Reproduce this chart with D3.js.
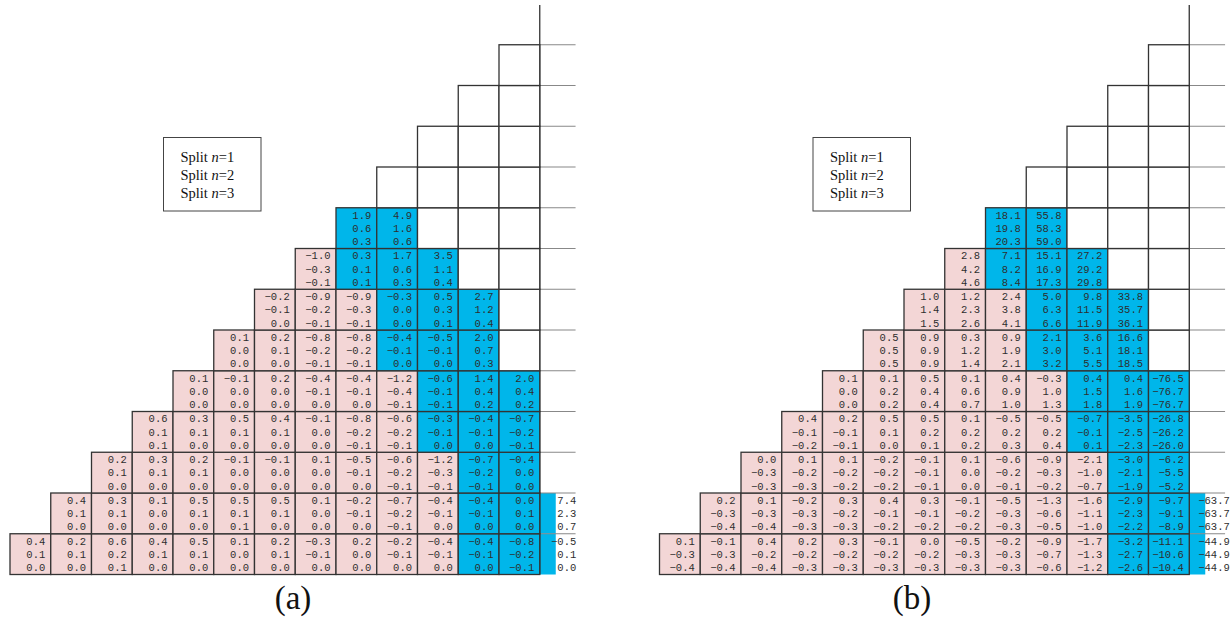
<!DOCTYPE html>
<html>
<head>
<meta charset="utf-8">
<script src="https://cdn.jsdelivr.net/npm/d3@7"></script>
<style>
body { margin: 0; background: #fff; }
.cell { stroke: #333; stroke-width: 1.3; }
.num { font-family: "Liberation Mono", "DejaVu Sans Mono", monospace; font-size: 10.5px; fill: #2e2e2e; text-anchor: end; }
.legend-box { fill: #fff; stroke: #444; stroke-width: 1; }
.legend-text { font-family: "Liberation Serif", "Times New Roman", serif; font-size: 14.5px; fill: #111; }
.panel-label { font-family: "Liberation Serif", "Times New Roman", serif; font-size: 33px; fill: #111; text-anchor: middle; }
</style>
</head>
<body>
<div id="chart"></div>
<script>
// values per row, bottom row first; row r starts at column r
const aSplit1 = [
    [0.4, 0.2, 0.6, 0.4, 0.5, 0.1, 0.2, -0.3, 0.2, -0.2, -0.4, -0.4, -0.8, -0.5],
    [0.4, 0.3, 0.1, 0.5, 0.5, 0.5, 0.1, -0.2, -0.7, -0.4, -0.4, 0.0, 7.4],
    [0.2, 0.3, 0.2, -0.1, -0.1, 0.1, -0.5, -0.6, -1.2, -0.7, -0.4],
    [0.6, 0.3, 0.5, 0.4, -0.1, -0.8, -0.6, -0.3, -0.4, -0.7],
    [0.1, -0.1, 0.2, -0.4, -0.4, -1.2, -0.6, 1.4, 2.0],
    [0.1, 0.2, -0.8, -0.8, -0.4, -0.5, 2.0],
    [-0.2, -0.9, -0.9, -0.3, 0.5, 2.7],
    [-1.0, 0.3, 1.7, 3.5],
    [1.9, 4.9]
];
const aSplit2 = [
    [0.1, 0.1, 0.2, 0.1, 0.1, 0.0, 0.1, -0.1, 0.0, -0.1, -0.1, -0.1, -0.2, 0.1],
    [0.1, 0.1, 0.0, 0.1, 0.1, 0.1, 0.0, -0.1, -0.2, -0.1, -0.1, 0.1, 2.3],
    [0.1, 0.1, 0.1, 0.0, 0.0, 0.0, -0.1, -0.2, -0.3, -0.2, 0.0],
    [0.1, 0.1, 0.1, 0.1, 0.0, -0.2, -0.2, -0.1, -0.1, -0.2],
    [0.0, 0.0, 0.0, -0.1, -0.1, -0.4, -0.1, 0.4, 0.4],
    [0.0, 0.1, -0.2, -0.2, -0.1, -0.1, 0.7],
    [-0.1, -0.2, -0.3, 0.0, 0.3, 1.2],
    [-0.3, 0.1, 0.6, 1.1],
    [0.6, 1.6]
];
const aSplit3 = [
    [0.0, 0.0, 0.1, 0.0, 0.0, 0.0, 0.0, 0.0, 0.0, 0.0, 0.0, 0.0, -0.1, 0.0],
    [0.0, 0.0, 0.0, 0.0, 0.1, 0.0, 0.0, 0.0, -0.1, 0.0, 0.0, 0.0, 0.7],
    [0.0, 0.0, 0.0, 0.0, 0.0, 0.0, 0.0, -0.1, -0.1, -0.1, 0.0],
    [0.1, 0.0, 0.0, 0.0, 0.0, -0.1, -0.1, 0.0, 0.0, -0.1],
    [0.0, 0.0, 0.0, 0.0, 0.0, -0.1, -0.1, 0.2, 0.2],
    [0.0, 0.0, -0.1, -0.1, 0.0, 0.0, 0.3],
    [0.0, -0.1, -0.1, 0.0, 0.1, 0.4],
    [-0.1, 0.1, 0.3, 0.4],
    [0.3, 0.6]
];
const bSplit1 = [
    [0.1, -0.1, 0.4, 0.2, 0.3, -0.1, 0.0, -0.5, -0.2, -0.9, -1.7, -3.2, -11.1, -44.9],
    [0.2, 0.1, -0.2, 0.3, 0.4, 0.3, -0.1, -0.5, -1.3, -1.6, -2.9, -9.7, -63.7],
    [0.0, 0.1, 0.1, -0.2, -0.1, 0.1, -0.6, -0.9, -2.1, -3.0, -6.2],
    [0.4, 0.2, 0.5, 0.5, 0.1, -0.5, -0.5, -0.7, -3.5, -26.8],
    [0.1, 0.1, 0.5, 0.1, 0.4, -0.3, 0.4, 0.4, -76.5],
    [0.5, 0.9, 0.3, 0.9, 2.1, 3.6, 16.6],
    [1.0, 1.2, 2.4, 5.0, 9.8, 33.8],
    [2.8, 7.1, 15.1, 27.2],
    [18.1, 55.8]
];
const bSplit2 = [
    [-0.3, -0.3, -0.2, -0.2, -0.2, -0.2, -0.2, -0.3, -0.3, -0.7, -1.3, -2.7, -10.6, -44.9],
    [-0.3, -0.3, -0.3, -0.2, -0.1, -0.1, -0.2, -0.3, -0.6, -1.1, -2.3, -9.1, -63.7],
    [-0.3, -0.2, -0.2, -0.2, -0.1, 0.0, -0.2, -0.3, -1.0, -2.1, -5.5],
    [-0.1, -0.1, 0.1, 0.2, 0.2, 0.2, 0.2, -0.1, -2.5, -26.2],
    [0.0, 0.2, 0.4, 0.6, 0.9, 1.0, 1.5, 1.6, -76.7],
    [0.5, 0.9, 1.2, 1.9, 3.0, 5.1, 18.1],
    [1.4, 2.3, 3.8, 6.3, 11.5, 35.7],
    [4.2, 8.2, 16.9, 29.2],
    [19.8, 58.3]
];
const bSplit3 = [
    [-0.4, -0.4, -0.4, -0.3, -0.3, -0.3, -0.3, -0.3, -0.3, -0.6, -1.2, -2.6, -10.4, -44.9],
    [-0.4, -0.4, -0.3, -0.3, -0.2, -0.2, -0.2, -0.3, -0.5, -1.0, -2.2, -8.9, -63.7],
    [-0.3, -0.3, -0.2, -0.2, -0.1, 0.0, -0.1, -0.2, -0.7, -1.9, -5.2],
    [-0.2, -0.1, 0.0, 0.1, 0.2, 0.3, 0.4, 0.1, -2.3, -26.0],
    [0.0, 0.2, 0.4, 0.7, 1.0, 1.3, 1.8, 1.9, -76.7],
    [0.5, 0.9, 1.4, 2.1, 3.2, 5.5, 18.5],
    [1.5, 2.6, 4.1, 6.6, 11.9, 36.1],
    [4.6, 8.4, 17.3, 29.8],
    [20.3, 59.0]
];
// first blue column of each row (blue runs to the end of the row)
const blueStart = [11, 11, 11, 10, 10, 9, 9, 8, 8];
const legendLabels = ["1", "2", "3"];
const panelLabels = ["(a)", "(b)"];

const svg = d3.select("#chart").append("svg")
    .attr("width", 1231)
    .attr("height", 617);

/**
 * Constructor for one triangular table
 */
function TriangleTable(id, left, labelX, edgeText, splits, label){
    let self = this;
    self.id = id;
    self.left = left;
    self.labelX = labelX;
    self.edgeText = edgeText;
    self.splits = splits;
    self.label = label;

    self.init();
};

TriangleTable.prototype.init = function(){
    let self = this;
    self.colW = 40.75;
    self.bottom = 574.5;
    self.nCols = 13;

    let fmt = d3.format(".1f");
    let x = d3.scaleLinear().domain([0, self.nCols]).range([self.left, self.left + self.nCols*self.colW]);
    let y = d3.scaleLinear().domain([0, 14]).range([self.bottom, self.bottom - 14*self.colW]);
    let rows = self.splits[0];

    svg.append("clipPath")
        .attr("id", "clip-" + self.id)
        .append("rect")
        .attr("x", self.left - 2)
        .attr("y", 5)
        .attr("width", self.nCols*self.colW + 38)
        .attr("height", self.bottom - 3);

    let g = svg.append("g").attr("clip-path", "url(#clip-" + self.id + ")");

    //Builds cells of the staircase
    let cells = [];
    for (let r = 0; r < 14; r++) {
        for (let c = r; c < self.nCols; c++) {
            let n = r < rows.length ? rows[r].length : 0;
            let filled = c - r < n;
            cells.push({
                r: r, c: c,
                kind: !filled ? "empty" : (c >= blueStart[r] ? "blue" : "pink"),
                vals: filled ? self.splits.map(function(s){ return s[r][c - r]; }) : []
            });
        }
    }

    //Blue part of the clipped last column
    let edge = rows.map(function(row, r){ return {r: r, len: row.length}; })
        .filter(function(d){ return d.r + d.len - 1 === self.nCols; });
    g.selectAll(".edge-fill")
        .data(edge)
        .enter()
        .append("rect")
        .attr("class", "edge-fill")
        .attr("x", x(self.nCols))
        .attr("y", function(d){ return y(d.r + 1); })
        .attr("width", 16)
        .attr("height", function(d){ return y(d.r) - y(d.r + 1); })
        .attr("fill", "#00b6ea");

    //Grey lines over the clipped last column
    g.selectAll(".edge-line")
        .data(d3.range(1, 14))
        .enter()
        .append("line")
        .attr("class", "edge-line")
        .attr("x1", x(self.nCols))
        .attr("x2", x(self.nCols) + 36)
        .attr("y1", function(d){ return y(d); })
        .attr("y2", function(d){ return y(d); })
        .attr("stroke", "#888")
        .attr("stroke-width", 1.1);

    g.append("line")
        .attr("x1", x(self.nCols))
        .attr("x2", x(self.nCols))
        .attr("y1", y(14))
        .attr("y2", y(0))
        .attr("stroke", "#333")
        .attr("stroke-width", 1.3);

    g.selectAll(".cell")
        .data(cells)
        .enter()
        .append("rect")
        .attr("class", "cell")
        .attr("x", function(d){ return x(d.c); })
        .attr("y", function(d){ return y(d.r + 1); })
        .attr("width", function(d){ return x(d.c + 1) - x(d.c); })
        .attr("height", function(d){ return y(d.r) - y(d.r + 1); })
        .attr("fill", function(d){
            return d.kind === "blue" ? "#00b6ea" : (d.kind === "pink" ? "#f3d6d6" : "#fff");
        });

    //Three numbers per cell
    let texts = [];
    cells.forEach(function(d){
        d.vals.forEach(function(v, i){ texts.push({r: d.r, c: d.c, i: i, v: v}); });
    });
    edge.forEach(function(d){
        self.splits.forEach(function(s, i){ texts.push({r: d.r, c: self.nCols, i: i, v: s[d.r][d.len - 1], edge: true}); });
    });

    svg.selectAll(".num-" + self.id)
        .data(texts)
        .enter()
        .append("text")
        .attr("class", "num num-" + self.id)
        .attr("x", function(d){ return d.edge ? x(d.c) + self.edgeText : x(d.c + 1) - 5.5; })
        .attr("y", function(d){ return y(d.r + 1) + 10.8 + d.i*13.3; })
        .text(function(d){ return fmt(d.v); });

    //Legend box
    let lg = svg.append("g").attr("transform", "translate(" + (self.left + 153.5) + ",137.5)");
    lg.append("rect")
        .attr("class", "legend-box")
        .attr("width", 97.5)
        .attr("height", 73.5);
    let lt = lg.selectAll(".legend-text")
        .data(legendLabels)
        .enter()
        .append("text")
        .attr("class", "legend-text")
        .attr("x", 17)
        .attr("y", function(d, i){ return 24 + i*18.4; });
    lt.append("tspan").text("Split ");
    lt.append("tspan").attr("font-style", "italic").text("n");
    lt.append("tspan").text(function(d){ return "=" + d; });

    svg.append("text")
        .attr("class", "panel-label")
        .attr("x", self.labelX)
        .attr("y", 609)
        .text(self.label);
};

let tableA = new TriangleTable("a", 10, 293, 36.5, [aSplit1, aSplit2, aSplit3], panelLabels[0]);
let tableB = new TriangleTable("b", 659.5, 912, 40.5, [bSplit1, bSplit2, bSplit3], panelLabels[1]);
</script>
</body>
</html>
